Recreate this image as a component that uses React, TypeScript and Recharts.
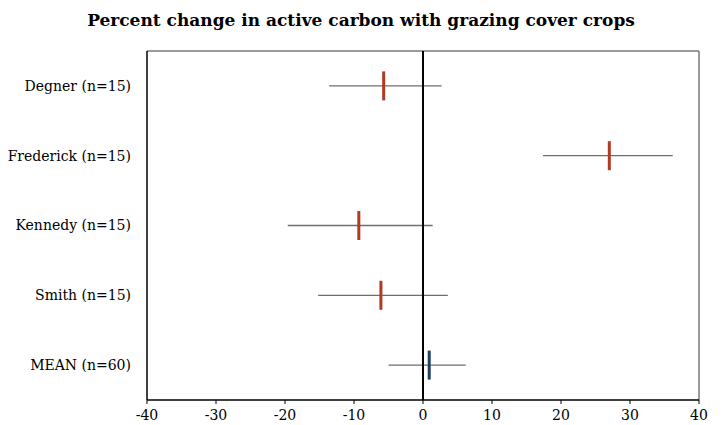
import React from 'react';
import { ComposedChart, XAxis, YAxis, Scatter, ReferenceLine, Cell } from 'recharts';

// Per-site percent change in active carbon, with interval bounds
const sites = ['Degner (n=15)', 'Frederick (n=15)', 'Kennedy (n=15)', 'Smith (n=15)', 'MEAN (n=60)'];
const means = [-5.7, 27.0, -9.3, -6.1, 0.9];
const lowerBounds = [-13.6, 17.4, -19.6, -15.2, -5.0];
const upperBounds = [2.7, 36.2, 1.4, 3.6, 6.2];
const xTicks = [-40, -30, -20, -10, 0, 10, 20, 30, 40];

const SITE_COLOR = '#b03a22';
const MEAN_COLOR = '#1f3f66';
const WHISKER = '#6e6e6e';
const FRAME = '#7a7a7a';
const FONT = '"DejaVu Serif", "Liberation Serif", serif';

// Rows sit on integer slots; the axis runs half a slot past each end
const rows = sites.map((site, i) => ({
  site,
  slot: i,
  mean: means[i],
  low: lowerBounds[i],
  high: upperBounds[i],
}));
const slotTicks = rows.map((r) => r.slot);

const Marker = (props: any) => {
  const { cx, cy, fill } = props;
  if (cx == null || cy == null) return null;
  return <rect x={cx - 1.5} y={cy - 14.5} width={3} height={29} fill={fill} />;
};

export default function App() {
  return (
    <div style={{ position: 'absolute', left: 0, top: 0, width: 722, height: 425, background: '#fff' }}>
      <div
        style={{
          position: 'absolute',
          left: 0,
          top: 10,
          width: 722,
          textAlign: 'center',
          fontFamily: FONT,
          fontWeight: 'bold',
          fontSize: 17,
          color: '#000',
        }}
      >
        Percent change in active carbon with grazing cover crops
      </div>
      <ComposedChart
        width={722}
        height={425}
        data={rows}
        layout="vertical"
        margin={{ top: 51, right: 23, bottom: 0, left: 0 }}
      >
        <XAxis
          type="number"
          dataKey="mean"
          domain={[-40, 40]}
          ticks={xTicks}
          interval={0}
          height={25}
          tickSize={4}
          tickMargin={6}
          axisLine={{ stroke: '#000', strokeWidth: 1.5 }}
          tickLine={{ stroke: '#000' }}
          tick={{ fill: '#000', fontFamily: FONT, fontSize: 14 }}
        />
        <YAxis
          type="number"
          dataKey="slot"
          domain={[-0.5, sites.length - 0.5]}
          ticks={slotTicks}
          interval={0}
          tickFormatter={(v: number) => sites[v] ?? ''}
          width={147}
          tickLine={false}
          tickSize={6}
          tickMargin={10}
          axisLine={{ stroke: '#000', strokeWidth: 1.5 }}
          tick={{ fill: '#000', fontFamily: FONT, fontSize: 14 }}
        />
        {/* top and right frame edges */}
        <ReferenceLine y={-0.5} stroke={FRAME} strokeWidth={1.5} />
        <ReferenceLine x={40} stroke={FRAME} strokeWidth={1.5} />
        <Scatter data={rows} isAnimationActive={false} shape={<Marker />}>
          {rows.map((r, i) => (
            <Cell key={r.site} fill={i === rows.length - 1 ? MEAN_COLOR : SITE_COLOR} />
          ))}
        </Scatter>
        {rows.map((r) => (
          <ReferenceLine
            key={`w-${r.site}`}
            segment={[
              { x: r.low, y: r.slot },
              { x: r.high, y: r.slot },
            ]}
            stroke={WHISKER}
            strokeWidth={1.3}
          />
        ))}
        <ReferenceLine x={0} stroke="#000" strokeWidth={2} />
      </ComposedChart>
    </div>
  );
}
